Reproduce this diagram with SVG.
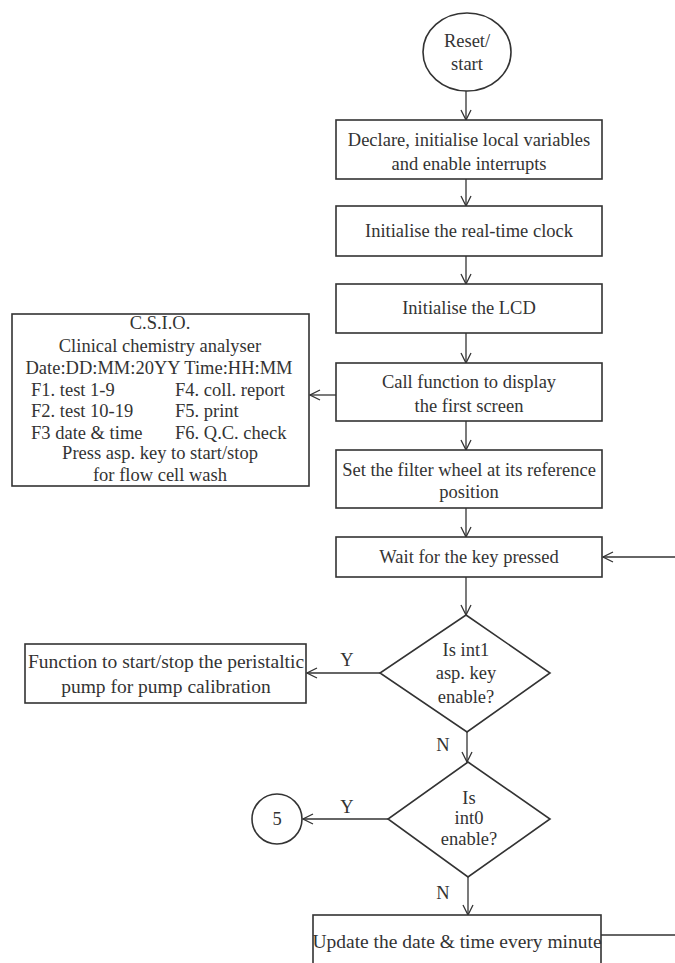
<svg xmlns="http://www.w3.org/2000/svg" width="675" height="963" viewBox="0 0 675 963">
<defs>
<marker id="ah" viewBox="0 0 12 12" refX="11" refY="6" markerWidth="12" markerHeight="12" markerUnits="userSpaceOnUse" orient="auto">
<polyline points="1,1 11,6 1,11" fill="none" stroke="#333" stroke-width="1.3"/>
</marker>
<style>
.s{fill:#fff;stroke:#333;stroke-width:1.6}
.t{font-family:"Liberation Serif","Times New Roman",serif;font-size:18.5px;fill:#333;text-anchor:middle}
.l{font-family:"Liberation Serif","Times New Roman",serif;font-size:18.5px;fill:#333}
.w{font-size:19.5px}
.c{fill:none;stroke:#333;stroke-width:1.3}
</style>
</defs>
<rect width="675" height="963" fill="#fff"/>
<g id="connectors">
<line class="c" x1="466" y1="91" x2="466" y2="120" marker-end="url(#ah)"/>
<line class="c" x1="466" y1="179" x2="466" y2="206" marker-end="url(#ah)"/>
<line class="c" x1="466" y1="256" x2="466" y2="284" marker-end="url(#ah)"/>
<line class="c" x1="466" y1="333" x2="466" y2="363" marker-end="url(#ah)"/>
<line class="c" x1="466" y1="421" x2="466" y2="450" marker-end="url(#ah)"/>
<line class="c" x1="466" y1="508" x2="466" y2="537" marker-end="url(#ah)"/>
<line class="c" x1="466" y1="577" x2="466" y2="615" marker-end="url(#ah)"/>
<line class="c" x1="336" y1="395" x2="310" y2="395" marker-end="url(#ah)"/>
<line class="c" x1="675" y1="557" x2="603" y2="557" marker-end="url(#ah)"/>
<line class="c" x1="380" y1="673" x2="307" y2="673" marker-end="url(#ah)"/>
<line class="c" x1="467" y1="732" x2="467" y2="762" marker-end="url(#ah)"/>
<line class="c" x1="388" y1="819" x2="303" y2="819" marker-end="url(#ah)"/>
<line class="c" x1="468" y1="877" x2="468" y2="915" marker-end="url(#ah)"/>
<line class="c" x1="601" y1="935" x2="675" y2="935"/>
<text class="t" x="347" y="666">Y</text>
<text class="t" x="443" y="751">N</text>
<text class="t" x="347" y="813">Y</text>
<text class="t" x="443" y="899">N</text>
</g>
<g id="start">
<ellipse class="s" cx="467" cy="52" rx="44" ry="39"/>
<text class="t" x="467" y="47">Reset/</text>
<text class="t" x="467" y="70">start</text>
</g>
<g id="declare">
<rect class="s" x="336" y="120" width="266" height="59"/>
<text class="t" x="469" y="146">Declare, initialise local variables</text>
<text class="t" x="469" y="170">and enable interrupts</text>
</g>
<g id="rtc">
<rect class="s" x="336" y="206" width="266" height="50"/>
<text class="t" x="469" y="237">Initialise the real-time clock</text>
</g>
<g id="lcd">
<rect class="s" x="336" y="284" width="266" height="49"/>
<text class="t" x="469" y="314">Initialise the LCD</text>
</g>
<g id="callfn">
<rect class="s" x="336" y="363" width="266" height="58"/>
<text class="t" x="469" y="388">Call function to display</text>
<text class="t" x="469" y="412">the first screen</text>
</g>
<g id="screen">
<rect class="s" x="12" y="314" width="297" height="172"/>
<text class="t" x="160" y="329">C.S.I.O.</text>
<text class="t" x="160" y="352">Clinical chemistry analyser</text>
<text class="t" x="159" y="374">Date:DD:MM:20YY Time:HH:MM</text>
<text class="l" x="31" y="396">F1. test 1-9</text>
<text class="l" x="175" y="396">F4. coll. report</text>
<text class="l" x="31" y="417">F2. test 10-19</text>
<text class="l" x="175" y="417">F5. print</text>
<text class="l" x="31" y="439">F3 date &amp; time</text>
<text class="l" x="175" y="439">F6. Q.C. check</text>
<text class="t" x="160" y="459">Press asp. key to start/stop</text>
<text class="t" x="160" y="481">for flow cell wash</text>
</g>
<g id="filter">
<rect class="s" x="336" y="450" width="266" height="58"/>
<text class="t" x="469" y="476">Set the filter wheel at its reference</text>
<text class="t" x="469" y="498">position</text>
</g>
<g id="wait">
<rect class="s" x="336" y="537" width="266" height="40"/>
<text class="t" x="469" y="563">Wait for the key pressed</text>
</g>
<g id="int1">
<polygon class="s" points="466,615 550,673 467,732 380,673"/>
<text class="t" x="466" y="656">Is int1</text>
<text class="t" x="466" y="679">asp. key</text>
<text class="t" x="466" y="703">enable?</text>
</g>
<g id="pump">
<rect class="s" x="25" y="644" width="281" height="59"/>
<text class="t w" x="166" y="668">Function to start/stop the peristaltic</text>
<text class="t w" x="166" y="693">pump for pump calibration</text>
</g>
<g id="int0">
<polygon class="s" points="468,762 550,819 468,877 388,819"/>
<text class="t" x="469" y="804">Is</text>
<text class="t" x="469" y="824">int0</text>
<text class="t" x="469" y="845">enable?</text>
</g>
<g id="conn5">
<circle class="s" cx="277" cy="819" r="25"/>
<text class="t" x="277" y="825">5</text>
</g>
<g id="update">
<rect class="s" x="313" y="915" width="288" height="60"/>
<text class="t w" x="457" y="948">Update the date &amp; time every minute</text>
</g>
</svg>
